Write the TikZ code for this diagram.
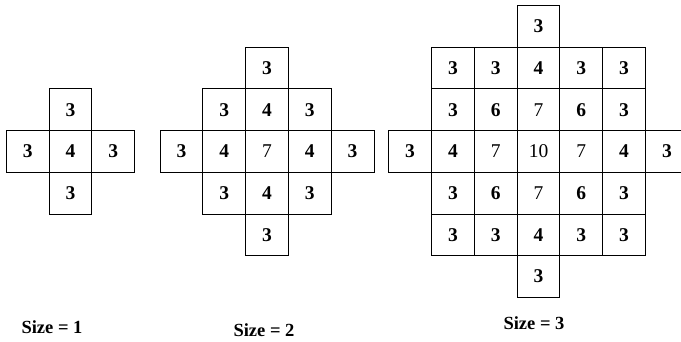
\documentclass[tikz,border=0pt]{standalone}
\usepackage{fontspec}
\setmainfont{Liberation Serif}
\begin{document}
\begin{tikzpicture}[x=1pt,y=-1pt,
  cell/.style={draw, line width=0.9pt, minimum width=42.8pt, minimum height=41.7pt,
    inner sep=0pt, font=\fontsize{19.5}{19.5}\selectfont\bfseries},
  caption/.style={inner sep=0pt, font=\fontsize{18.5}{18.5}\selectfont\bfseries}]
\clip (0,0) rectangle (681,342);
\fill[white] (0,0) rectangle (681,342);

% Size 1 : plus shape
\begin{scope}[shift={(27.7,109.8)}]
  \foreach \r/\c/\v in {0/1/3, 1/0/3, 1/1/4, 1/2/3, 2/1/3}
    \node[cell] (a-\r-\c) at (\c*42.8,\r*41.7) {\v};
\end{scope}

% Size 2 : 3x3 block with arms
\begin{scope}[shift={(181.4,68.1)}]
  \foreach \r/\c/\v in {0/2/3,
      1/1/3, 1/2/4, 1/3/3,
      2/0/3, 2/1/4, 2/2/{\mdseries 7}, 2/3/4, 2/4/3,
      3/1/3, 3/2/4, 3/3/3,
      4/2/3}
    \node[cell] (b-\r-\c) at (\c*42.8,\r*41.7) {\v};
\end{scope}

% Size 3 : 5x5 block with arms
\begin{scope}[shift={(410.1,26.4)}]
  \foreach \r/\c/\v in {0/3/3,
      1/1/3, 1/2/3, 1/3/4, 1/4/3, 1/5/3,
      2/1/3, 2/2/6, 2/3/{\mdseries 7}, 2/4/6, 2/5/3,
      3/0/3, 3/1/4, 3/2/{\mdseries 7}, 3/3/{\mdseries 10}, 3/4/{\mdseries 7}, 3/5/4, 3/6/3,
      4/1/3, 4/2/6, 4/3/{\mdseries 7}, 4/4/6, 4/5/3,
      5/1/3, 5/2/3, 5/3/4, 5/4/3, 5/5/3,
      6/3/3}
    \node[cell] (c-\r-\c) at (\c*42.8,\r*41.7) {\v};
\end{scope}

% Captions
\node[caption] (cap1) at (52,327) {Size = 1};
\node[caption] (cap2) at (264,330) {Size = 2};
\node[caption] (cap3) at (534,323) {Size = 3};
\end{tikzpicture}
\end{document}
